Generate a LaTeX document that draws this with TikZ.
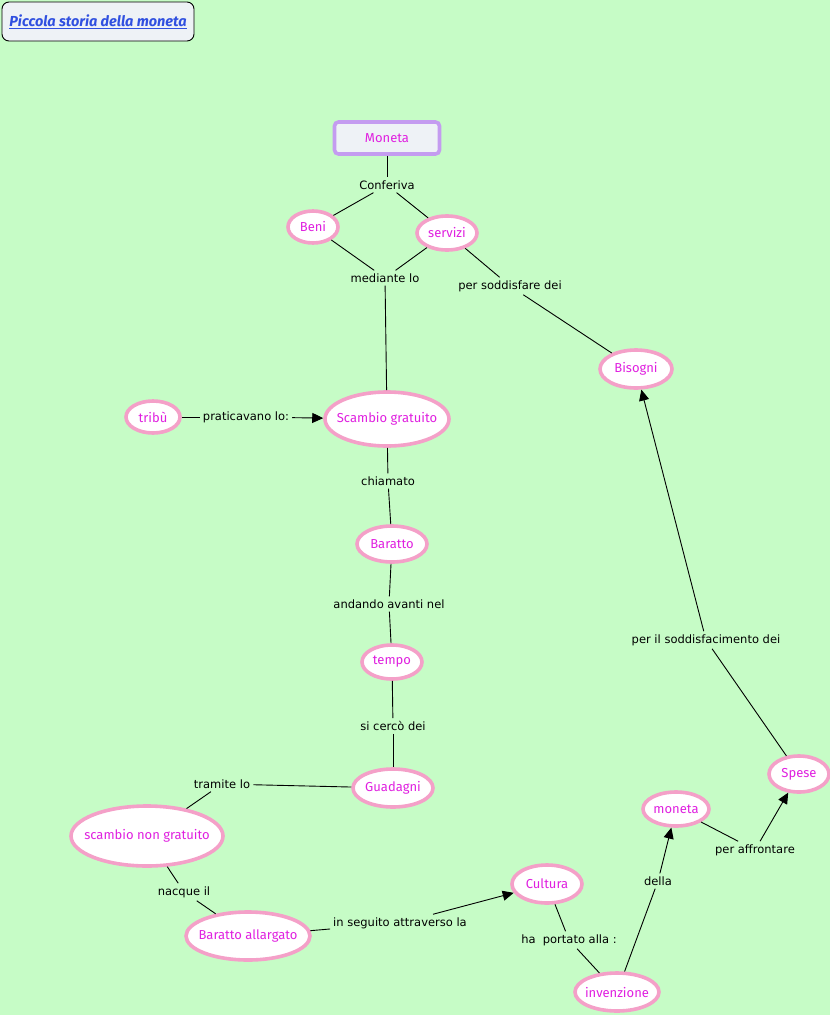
\documentclass[tikz,border=0pt]{standalone}
\usepackage{fontspec}
\setmainfont{DejaVu Sans}
\newfontfamily\nodefont{Fira Sans}
\usetikzlibrary{shapes.geometric,arrows.meta}
\definecolor{bg}{RGB}{198,252,198}
\definecolor{pinkb}{RGB}{244,160,200}
\definecolor{magt}{RGB}{224,32,224}
\definecolor{purpb}{RGB}{196,156,240}
\definecolor{boxf}{RGB}{238,242,246}
\definecolor{titleblue}{RGB}{48,80,224}
\newcommand\zb[1]{\makebox[0pt]{#1}}
\begin{document}
\begin{tikzpicture}[x=1pt,y=-1pt,
  concept/.style={ellipse,draw=pinkb,line width=3.6pt,fill=white,inner sep=0pt,
    font=\nodefont\fontsize{13}{15}\selectfont,text=magt},
  lbl/.style={font=\fontsize{11.5}{13}\selectfont,inner sep=3pt,text=black},
  conn/.style={draw=black,line width=0.9pt},
  arr/.style={conn,-{Triangle[length=11pt,width=10pt]}}]
\fill[bg] (0,0) rectangle (830,1015);
\useasboundingbox (0,0) rectangle (830,1015);
% title
\node[draw=black,line width=0.9pt,rounded corners=7pt,fill=boxf,minimum width=192pt,minimum height=39pt,
  font=\nodefont\itshape\bfseries\fontsize{14.5}{16}\selectfont,text=titleblue] (title) at (98,21.5) {\underline{Piccola storia della moneta}};
% nodes
\node[draw=purpb,line width=3.6pt,rounded corners=4pt,fill=boxf,minimum width=105pt,minimum height=32pt,
  font=\nodefont\fontsize{13}{15}\selectfont,text=magt] (moneta) at (387,138) {Moneta};
\node[lbl] (conferiva) at (387,185) {Conferiva};
\node[concept,minimum width=50pt,minimum height=32pt] (beni) at (313,227) {\zb{Beni}};
\node[concept,minimum width=60pt,minimum height=34pt] (servizi) at (447,233) {\zb{servizi}};
\node[lbl] (mediante) at (385,278) {mediante lo};
\node[lbl] (soddisfare) at (510,286) {per soddisfare dei};
\node[concept,minimum width=72pt,minimum height=38pt] (bisogni) at (636,369) {\zb{Bisogni}};
\node[concept,minimum width=54pt,minimum height=32pt] (tribu) at (153,417) {\zb{tribù}};
\node[lbl] (praticavano) at (246,417) {praticavano lo:};
\node[concept,minimum width=124pt,minimum height=54pt] (scambio) at (387,419) {\zb{Scambio gratuito}};
\node[lbl] (chiamato) at (388,481) {chiamato};
\node[concept,minimum width=70pt,minimum height=36pt] (baratto) at (392,544) {\zb{Baratto}};
\node[lbl] (andando) at (389,604) {andando avanti nel};
\node[concept,minimum width=60pt,minimum height=34pt] (tempo) at (392,662) {\zb{tempo}};
\node[lbl] (cerco) at (393,726) {si cercò dei};
\node[concept,minimum width=80pt,minimum height=38pt] (guadagni) at (393,788) {\zb{Guadagni}};
\node[lbl] (tramite) at (222,784) {tramite lo};
\node[concept,minimum width=152pt,minimum height=60pt] (nongratuito) at (147,836) {\zb{scambio non gratuito}};
\node[lbl] (nacque) at (184,892) {nacque il};
\node[concept,minimum width=124pt,minimum height=48pt] (allargato) at (248,936) {\zb{Baratto allargato}};
\node[lbl] (seguito) at (400,923) {in seguito attraverso la};
\node[concept,minimum width=70pt,minimum height=38pt] (cultura) at (547,884) {\zb{Cultura}};
\node[lbl] (portato) at (569,940) {ha\ \ portato alla :};
\node[concept,minimum width=84pt,minimum height=38pt] (invenzione) at (617,992) {\zb{invenzione}};
\node[lbl] (della) at (658,881) {della};
\node[concept,minimum width=66pt,minimum height=34pt] (moneta2) at (676,809) {\zb{moneta}};
\node[lbl] (affrontare) at (755,850) {per affrontare};
\node[concept,minimum width=60pt,minimum height=36pt] (spese) at (799,774) {\zb{Spese}};
\node[lbl] (soddisfacimento) at (706,640) {per il soddisfacimento dei};
% connectors
\draw[conn] (moneta) -- (conferiva);
\draw[conn] (conferiva) -- (beni);
\draw[conn] (conferiva) -- (servizi);
\draw[conn] (beni) -- (mediante);
\draw[conn] (servizi) -- (mediante);
\draw[conn] (mediante) -- (scambio);
\draw[conn] (servizi) -- (soddisfare);
\draw[conn] (soddisfare) -- (bisogni);
\draw[conn] (tribu) -- (praticavano);
\draw[arr] (praticavano) -- (scambio);
\draw[conn] (scambio) -- (chiamato);
\draw[conn] (chiamato) -- (baratto);
\draw[conn] (baratto) -- (andando);
\draw[conn] (andando) -- (tempo);
\draw[conn] (tempo) -- (cerco);
\draw[conn] (cerco) -- (guadagni);
\draw[conn] (guadagni) -- (tramite);
\draw[conn] (tramite) -- (nongratuito);
\draw[conn] (nongratuito) -- (nacque);
\draw[conn] (nacque) -- (allargato);
\draw[conn] (allargato) -- (seguito);
\draw[arr] (seguito) -- (cultura);
\draw[conn] (cultura) -- (portato);
\draw[conn] (portato) -- (invenzione);
\draw[conn] (invenzione) -- (della);
\draw[arr] (della) -- (moneta2);
\draw[conn] (moneta2) -- (affrontare);
\draw[arr] (affrontare) -- (spese);
\draw[conn] (spese) -- (soddisfacimento);
\draw[arr] (soddisfacimento) -- (bisogni);
\end{tikzpicture}
\end{document}
